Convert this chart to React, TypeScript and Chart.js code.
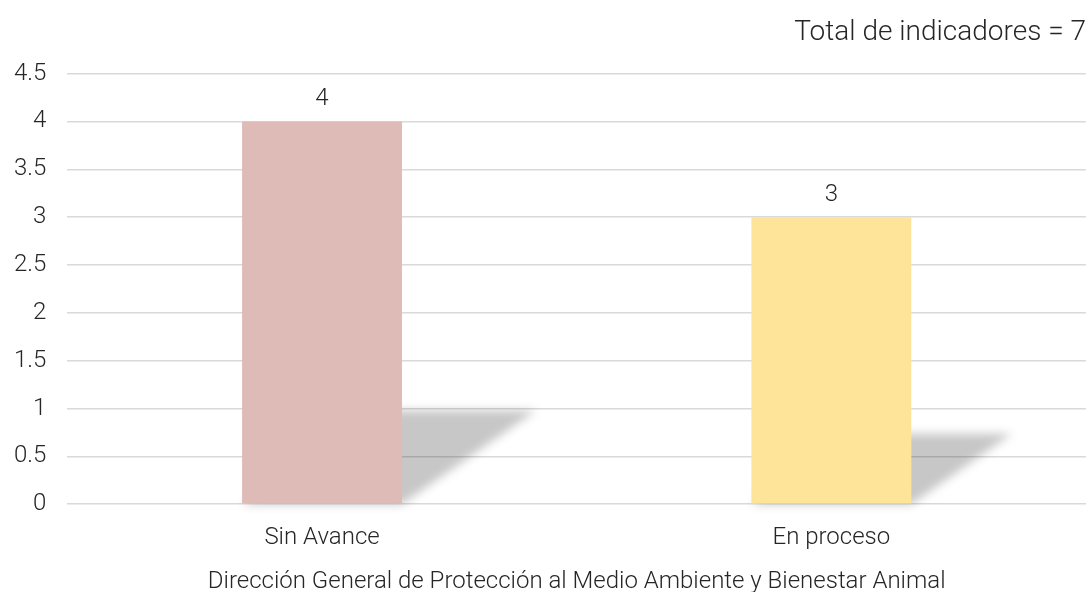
import React, { useEffect, useRef } from "react";
import { Chart, registerables } from "chart.js";

Chart.register(...registerables);

const categories = ["Sin Avance", "En proceso"];
const values = [4, 3];
const barColors = ["#DFBBB8", "#FEE498"];
const yTicks = [0, 0.5, 1, 1.5, 2, 2.5, 3, 3.5, 4, 4.5];
const titleText = "Total de indicadores = 7";
const xTitle = "Dirección General de Protección al Medio Ambiente y Bienestar Animal";

const FONT = "Roboto";
const TEXT = "#262626";
const FS = 24;

const shadowPlugin = {
  id: "barShadow",
  beforeDatasetsDraw(chart: any) {
    const ctx = chart.ctx;
    const meta = chart.getDatasetMeta(0);
    const base = chart.scales.y.getPixelForValue(0);
    ctx.save();
    meta.data.forEach((bar: any) => {
      const h = base - bar.y;
      const left = bar.x - bar.width / 2;
      const right = bar.x + bar.width / 2;
      const sh = h * 0.245;
      const dx = h * 0.35;
      ctx.filter = "blur(5px)";
      ctx.fillStyle = "rgba(0,0,0,0.22)";
      ctx.beginPath();
      ctx.moveTo(left, base);
      ctx.lineTo(right, base);
      ctx.lineTo(right + dx, base - sh);
      ctx.lineTo(left + dx, base - sh);
      ctx.closePath();
      ctx.fill();
    });
    ctx.restore();
  },
};

const labelPlugin = {
  id: "valueLabels",
  afterDatasetsDraw(chart: any) {
    const ctx = chart.ctx;
    const meta = chart.getDatasetMeta(0);
    ctx.save();
    ctx.font = `300 ${FS}px ${FONT}`;
    ctx.fillStyle = TEXT;
    ctx.textAlign = "center";
    ctx.textBaseline = "middle";
    meta.data.forEach((bar: any, i: number) => {
      ctx.fillText(String(values[i]), bar.x, bar.y - 22);
    });
    ctx.restore();
  },
};

export default function App() {
  const ref = useRef<HTMLCanvasElement>(null);
  useEffect(() => {
    document.body.style.margin = "0";
    const chart = new Chart(ref.current!, {
      type: "bar",
      data: {
        labels: categories,
        datasets: [
          {
            data: values,
            backgroundColor: barColors,
            barPercentage: 0.314,
            categoryPercentage: 1,
          },
        ],
      },
      options: {
        animation: false,
        responsive: false,
        layout: { padding: { left: -7, right: 0, top: 0, bottom: 0 } },
        plugins: {
          legend: { display: false },
          tooltip: { enabled: false },
          title: {
            display: true,
            text: titleText,
            align: "end",
            color: TEXT,
            font: { family: FONT, size: 28, weight: "300" as any, lineHeight: 1.2 },
            padding: { top: 16, bottom: 24 },
          },
        },
        scales: {
          x: {
            grid: { display: false, drawTicks: false },
            border: { display: false },
            ticks: {
              color: TEXT,
              font: { family: FONT, size: FS, weight: "300" as any, lineHeight: 1.2 },
              padding: 19,
            },
            title: {
              display: true,
              text: xTitle,
              color: TEXT,
              font: { family: FONT, size: FS, weight: "300" as any, lineHeight: 0.875 },
              padding: { top: 0, bottom: 0 },
            },
          },
          y: {
            min: 0,
            max: 4.5,
            afterBuildTicks: (scale: any) => {
              scale.ticks = yTicks.map((v) => ({ value: v }));
            },
            grid: { color: "#D9D9D9", lineWidth: 1.5, drawTicks: false },
            border: { display: false },
            ticks: {
              color: TEXT,
              font: { family: FONT, size: FS, weight: "300" as any },
              padding: 21,
              callback: (v: any) => String(v),
            },
          },
        },
      },
      plugins: [shadowPlugin, labelPlugin],
    });
    return () => chart.destroy();
  }, []);
  return <canvas ref={ref} width={1086} height={592} style={{ display: "block" }} />;
}
